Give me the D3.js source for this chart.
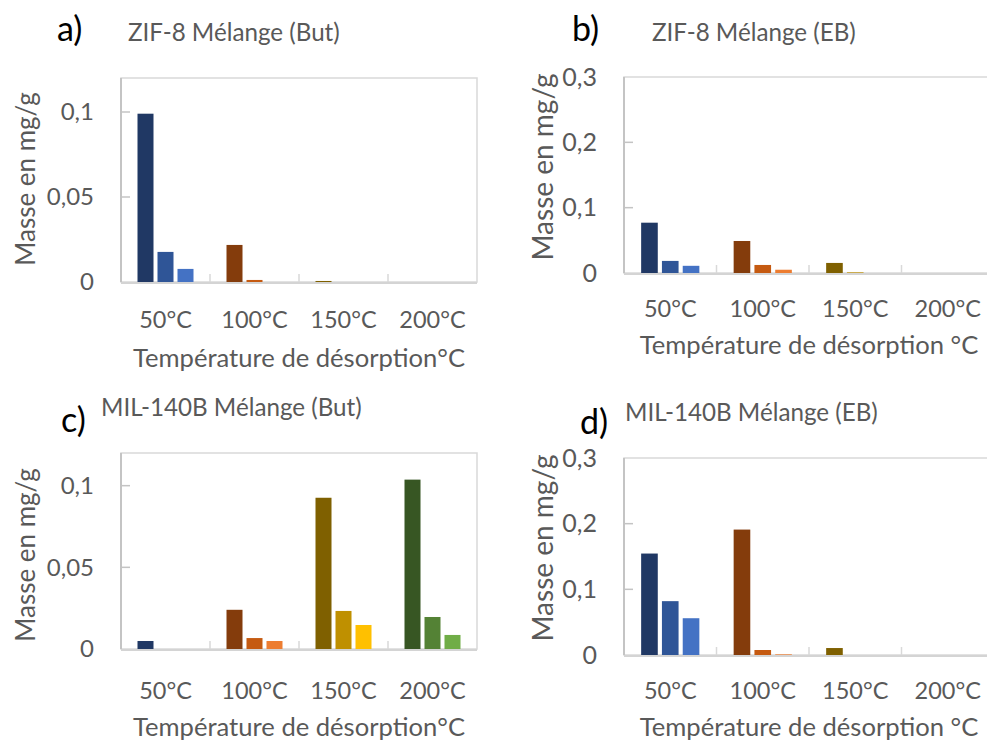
<!DOCTYPE html>
<html>
<head>
<meta charset="utf-8">
<script src="https://cdn.jsdelivr.net/npm/d3@7"></script>
<style>
  html, body { margin: 0; padding: 0; background: #fff; }
  svg { display: block; font-family: Lato, "Open Sans", sans-serif; }
  .tick-lbl, .cat-lbl, .ax-title, .ttl { fill: #595959; }
  .letter { fill: #000; }
</style>
</head>
<body>
<div id="chart"></div>
<script>
/* four grouped bar panels — desorbed mass per temperature step */

const categories = ['50°C', '100°C', '150°C', '200°C'];

// three successive measurements per temperature (one row per category)
const zifBut = [[0.099, 0.0177, 0.0077], [0.0218, 0.0012, 0], [0.0006, 0, 0], [0, 0, 0]];
const zifEB = [[0.077, 0.0185, 0.011], [0.049, 0.0123, 0.005], [0.0154, 0.001, 0], [0, 0, 0]];
const milBut = [[0.0049, 0, 0], [0.024, 0.0067, 0.0049], [0.0926, 0.0233, 0.0147], [0.1037, 0.0196, 0.0086]];
const milEB = [[0.1545, 0.082, 0.056], [0.191, 0.0076, 0.001], [0.0106, 0, 0], [0, 0, 0]];

const ticksBut = [0, 0.05, 0.1];
const ticksEB = [0, 0.1, 0.2, 0.3];

// shade ramp per temperature group (dark -> light)
const shades = [
  ['#203864', '#2F5597', '#4472C4'],
  ['#843C0C', '#C55A11', '#ED7D31'],
  ['#7F6000', '#BF9000', '#FFC000'],
  ['#375623', '#548235', '#70AD47']
];

const W = 987, H = 740;
const fmt = (v) => v === 0 ? '0' : String(+v.toFixed(2)).replace('.', ',');

const panels = [
  { letter: 'a)', title: 'ZIF-8 Mélange (But)', data: zifBut, max: 0.12, ticks: ticksBut,
    box: { l: 121, r: 477, t: 78, b: 282 }, xTitle: 'Température de désorption°C',
    letterPos: [57, 41], titlePos: [128, 41], tickFs: 24, yTitleFs: 26,
    catY: 328, xTitleY: 367, yTitleX: 35, yTitleY: 179 },
  { letter: 'b)', title: 'ZIF-8 Mélange (EB)', data: zifEB, max: 0.3, ticks: ticksEB,
    box: { l: 624, r: 994, t: 77, b: 273 }, xTitle: 'Température de désorption °C',
    letterPos: [572, 41], titlePos: [652, 41], tickFs: 25, yTitleFs: 28,
    catY: 317, xTitleY: 354, yTitleX: 553, yTitleY: 167 },
  { letter: 'c)', title: 'MIL-140B Mélange (But)', data: milBut, max: 0.12, ticks: ticksBut,
    box: { l: 121, r: 477, t: 453, b: 649 }, xTitle: 'Température de désorption°C',
    letterPos: [61, 432], titlePos: [101, 416], tickFs: 24, yTitleFs: 26,
    catY: 699, xTitleY: 736, yTitleX: 35, yTitleY: 555 },
  { letter: 'd)', title: 'MIL-140B Mélange (EB)', data: milEB, max: 0.3, ticks: ticksEB,
    box: { l: 624, r: 994, t: 458, b: 655 }, xTitle: 'Température de désorption °C',
    letterPos: [580, 434], titlePos: [625, 421], tickFs: 25, yTitleFs: 28,
    catY: 699, xTitleY: 736, yTitleX: 553, yTitleY: 548 }
];

const svg = d3.select('#chart').append('svg')
  .attr('width', W).attr('height', H).attr('viewBox', `0 0 ${W} ${H}`);

panels.forEach((p) => {
  const g = svg.append('g');
  const { l, r, t, b } = p.box;

  const x0 = d3.scaleBand().domain(categories).range([l, r]);
  const x1 = d3.scaleBand().domain([0, 1, 2]).range([0, x0.bandwidth()])
    .paddingInner(0.2).paddingOuter(0.825);
  const y = d3.scaleLinear().domain([0, p.max]).range([b, t]);

  /* plot-area frame */
  g.append('rect')
    .attr('x', l).attr('y', t).attr('width', r - l).attr('height', b - t)
    .attr('fill', 'none').attr('stroke', '#d9d9d9').attr('stroke-width', 1.5);

  /* y axis: line, inner ticks, labels */
  g.append('line').attr('x1', l).attr('x2', l).attr('y1', t).attr('y2', b)
    .attr('stroke', '#c4c4c4').attr('stroke-width', 2);
  g.append('g').selectAll('line').data(p.ticks.filter((v) => v > 0 && v < p.max)).join('line')
    .attr('x1', l).attr('x2', l + 9)
    .attr('y1', (d) => y(d)).attr('y2', (d) => y(d))
    .attr('stroke', '#c4c4c4').attr('stroke-width', 1.5);
  g.append('g').selectAll('text').data(p.ticks).join('text')
    .attr('class', 'tick-lbl')
    .attr('x', l - 27).attr('y', (d) => y(d))
    .attr('dy', '0.35em')
    .attr('text-anchor', 'end')
    .attr('font-size', p.tickFs)
    .text(fmt);

  /* x axis: baseline (sits just under the bars), category separators, labels */
  g.append('line').attr('x1', l).attr('x2', r).attr('y1', b + 1).attr('y2', b + 1)
    .attr('stroke', '#d4d4d4').attr('stroke-width', 2);
  g.append('g').selectAll('line').data(categories.slice(1)).join('line')
    .attr('x1', (d) => x0(d)).attr('x2', (d) => x0(d))
    .attr('y1', b - 8).attr('y2', b)
    .attr('stroke', '#d9d9d9').attr('stroke-width', 1.5);
  g.append('g').selectAll('text').data(categories).join('text')
    .attr('class', 'cat-lbl')
    .attr('x', (d) => x0(d) + x0.bandwidth() / 2)
    .attr('y', p.catY)
    .attr('text-anchor', 'middle')
    .attr('font-size', 23.5)
    .text((d) => d);

  /* bars, drawn over the axis lines so near-zero values still show */
  g.append('g').selectAll('g').data(p.data).join('g')
    .attr('transform', (d, i) => `translate(${x0(categories[i])},0)`)
    .each(function (row, ci) {
      d3.select(this).selectAll('rect').data(row).join('rect')
        .attr('x', (d, j) => x1(j))
        .attr('width', x1.bandwidth())
        .attr('y', (d) => y(d))
        .attr('height', (d) => b - y(d))
        .attr('fill', (d, j) => shades[ci][j]);
    });

  g.append('text').attr('class', 'ax-title')
    .attr('x', (l + r) / 2).attr('y', p.xTitleY)
    .attr('text-anchor', 'middle').attr('font-size', 25.6)
    .text(p.xTitle);

  g.append('text').attr('class', 'ax-title')
    .attr('transform', `translate(${p.yTitleX},${p.yTitleY}) rotate(-90)`)
    .attr('text-anchor', 'middle').attr('font-size', p.yTitleFs)
    .text('Masse en mg/g');

  /* panel letter + title */
  g.append('text').attr('class', 'letter')
    .attr('x', p.letterPos[0]).attr('y', p.letterPos[1])
    .attr('font-size', 34).text(p.letter);
  g.append('text').attr('class', 'ttl')
    .attr('x', p.titlePos[0]).attr('y', p.titlePos[1])
    .attr('font-size', 24.2).text(p.title);
});
</script>
</body>
</html>
